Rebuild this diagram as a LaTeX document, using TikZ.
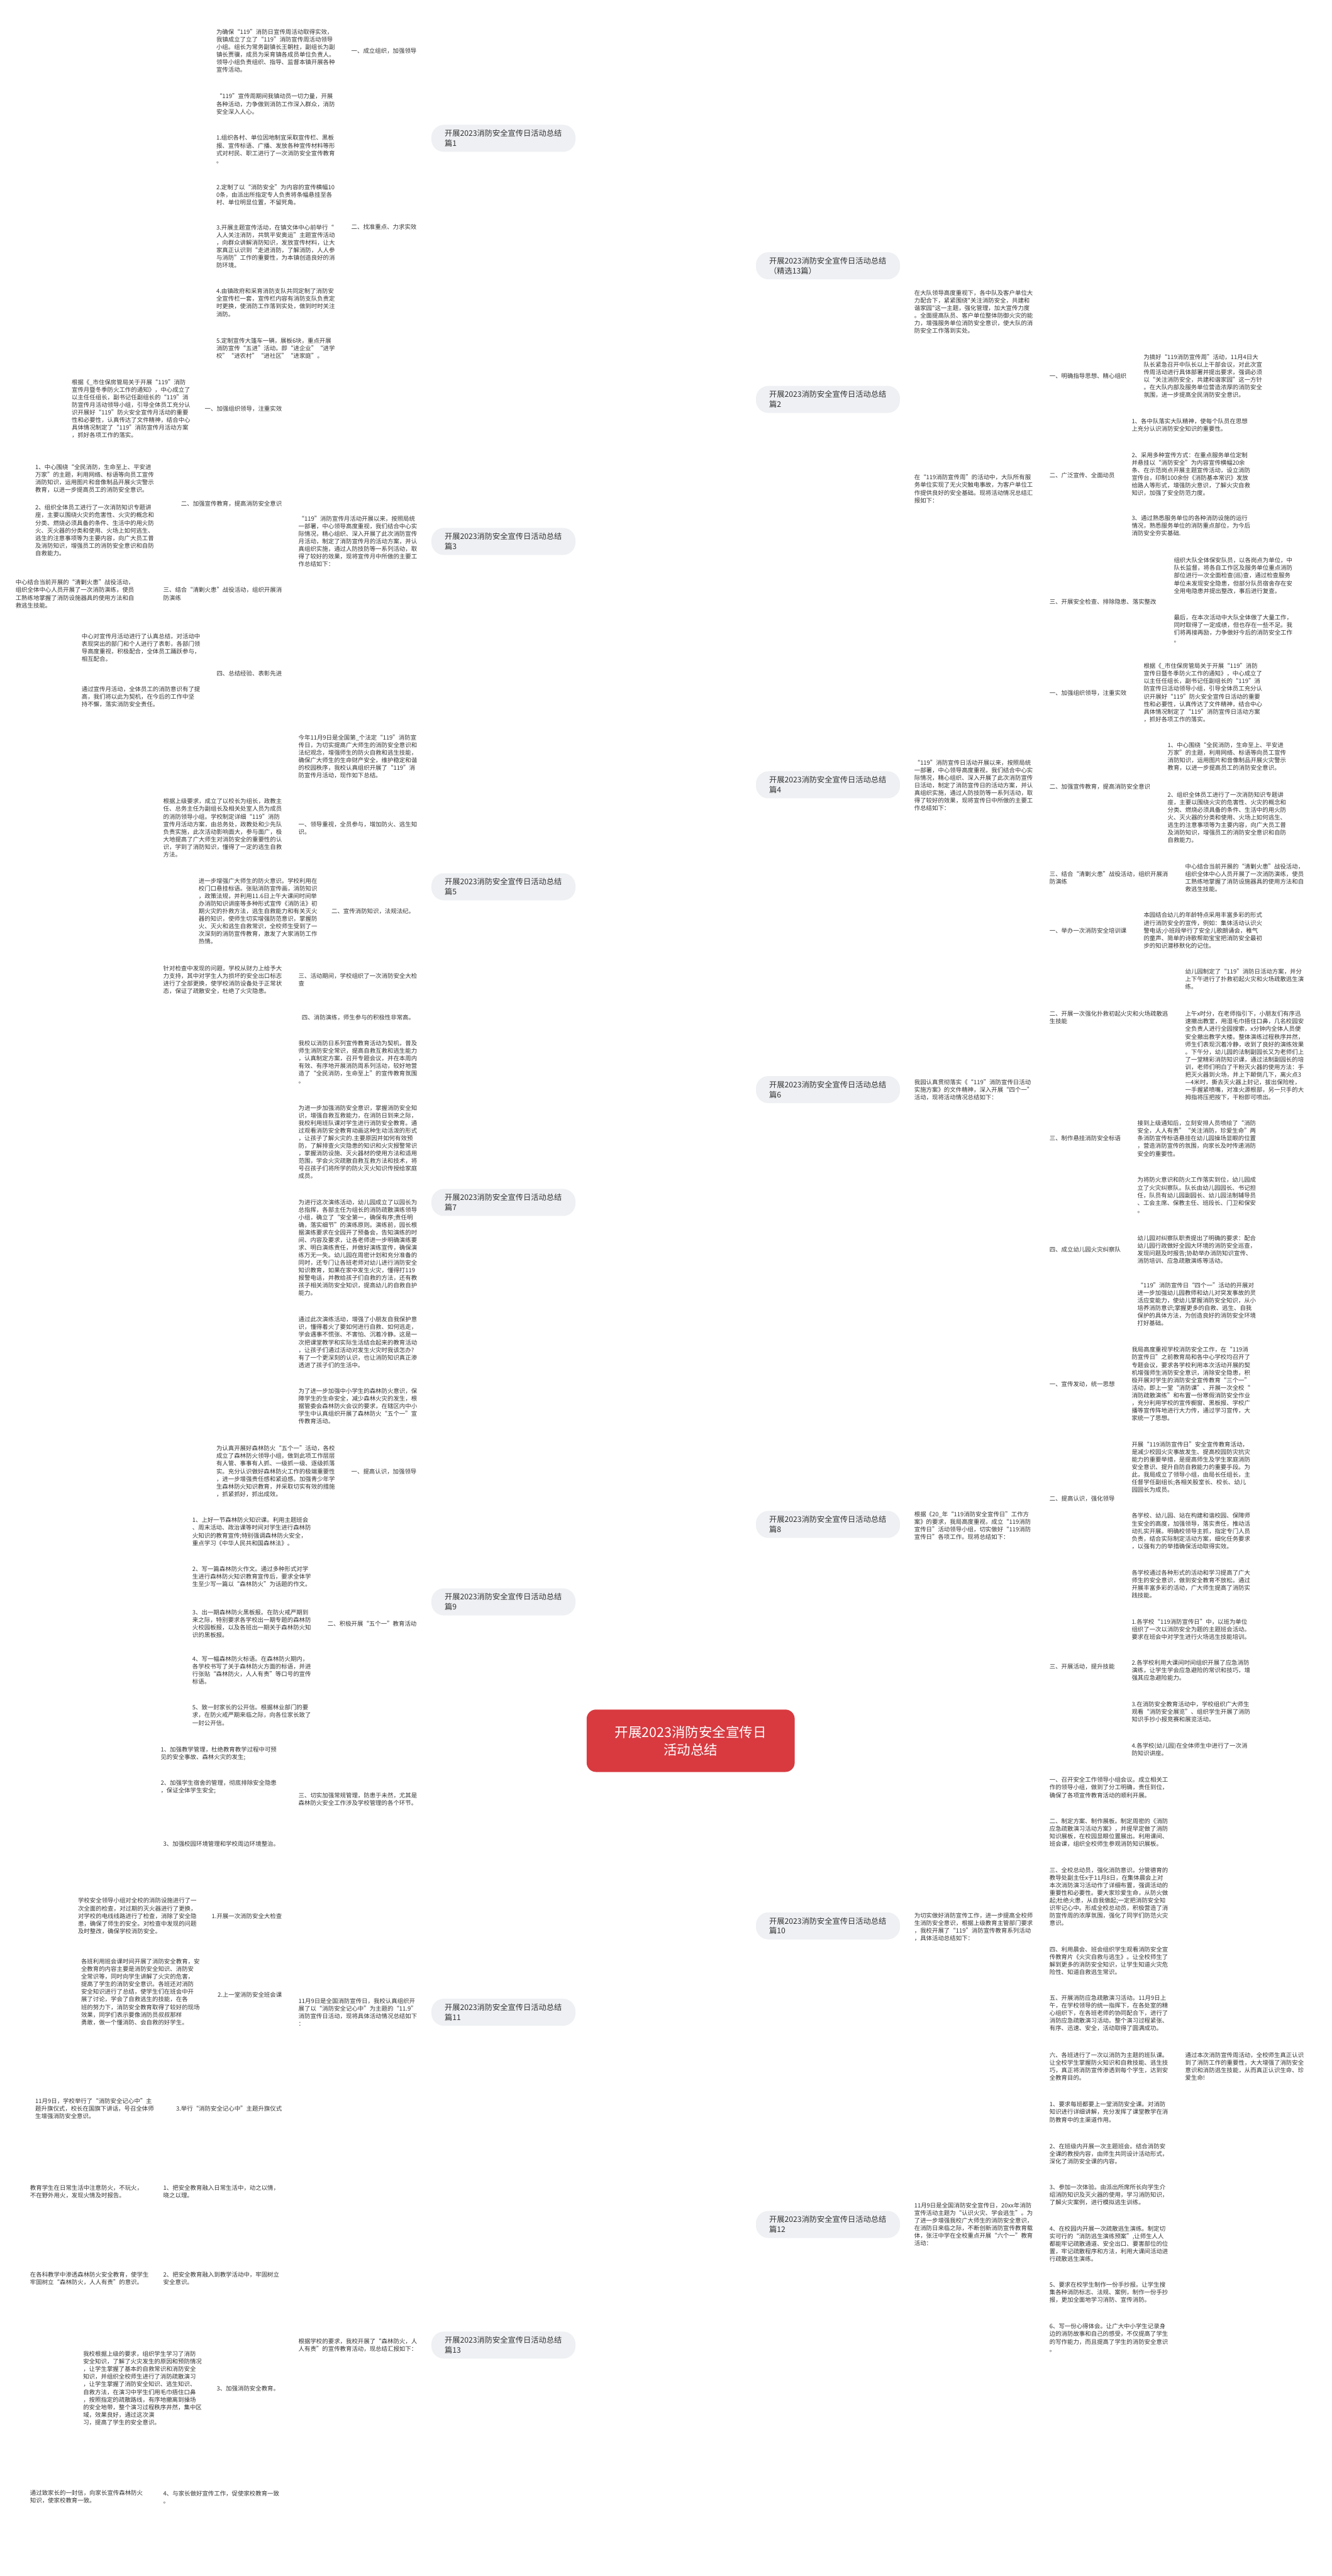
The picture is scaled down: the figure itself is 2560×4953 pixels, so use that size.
\documentclass[tikz,border=0pt]{standalone}
\usepackage{fontspec}
\newfontfamily\cjkf{Noto Sans CJK SC}
\usetikzlibrary{calc}
\definecolor{lc}{HTML}{B0232F}
\definecolor{tc}{HTML}{333333}
\definecolor{brf}{HTML}{EEF0F3}
\definecolor{ctf}{HTML}{D83A40}
\pgfdeclarelayer{bg}
\pgfsetlayers{bg,main}
\begin{document}
\begin{tikzpicture}[x=0.5pt,y=-0.5pt,
 txt/.style={font=\cjkf\fontsize{5.7pt}{7.3pt}\selectfont,text=tc,inner sep=0pt,outer sep=2pt},
 par/.style={txt,text width=114pt,align=left},
 lab/.style={txt,align=left},
 br/.style={font=\cjkf\fontsize{7.4pt}{9.5pt}\selectfont,text=tc,fill=brf,rounded corners=12pt,text width=113pt,align=left,inner xsep=12.75pt,inner ysep=0pt,minimum height=26pt,outer sep=0pt},
 ct/.style={font=\cjkf\fontsize{13pt}{17pt}\selectfont,text=white,fill=ctf,rounded corners=9pt,align=center,minimum width=200pt,minimum height=60pt,outer sep=0pt},
 lk/.style={draw=lc,line width=0.8pt,rounded corners=4pt},
 mk/.style={draw=lc,line width=1.2pt}
]
\useasboundingbox (0,0) rectangle (2560,4953);
\fill[white] (0,0) rectangle (2560,4953);

% ---------------- centre ----------------
\node[ct] (C) at (1328,3347) {开展2023消防安全宣传日\\活动总结};

% ---------------- left branch nodes ----------------
\node[br] (L1) at (968,266) {开展2023消防安全宣传日活动总结\\篇1};
\node[br] (L3) at (968,1041) {开展2023消防安全宣传日活动总结\\篇3};
\node[br] (L5) at (968,1705) {开展2023消防安全宣传日活动总结\\篇5};
\node[br] (L7) at (968,2312) {开展2023消防安全宣传日活动总结\\篇7};
\node[br] (L9) at (968,3080) {开展2023消防安全宣传日活动总结\\篇9};
\node[br] (L11) at (968,3869) {开展2023消防安全宣传日活动总结\\篇11};
\node[br] (L13) at (968,4509) {开展2023消防安全宣传日活动总结\\篇13};

% ---------------- right branch nodes ----------------
\node[br] (R0) at (1592,511) {开展2023消防安全宣传日活动总结\\（精选13篇）};
\node[br] (R2) at (1592,768) {开展2023消防安全宣传日活动总结\\篇2};
\node[br] (R4) at (1592,1509) {开展2023消防安全宣传日活动总结\\篇4};
\node[br] (R6) at (1592,2095) {开展2023消防安全宣传日活动总结\\篇6};
\node[br] (R8) at (1592,2931) {开展2023消防安全宣传日活动总结\\篇8};
\node[br] (R10) at (1592,3703) {开展2023消防安全宣传日活动总结\\篇10};
\node[br] (R12) at (1592,4277) {开展2023消防安全宣传日活动总结\\篇12};

% ================= 篇1 =================
\node[lab,anchor=east] (L1a) at (805,98) {一、成立组织，加强领导};
\node[par,anchor=east] (A1) at (648,98) {为确保“119”消防日宣传周活动取得实效，\\我镇成立了立了“119”消防宣传周活动领导\\小组。组长为常务副镇长王朝柱，副组长为副\\镇长贾骥，成员为采育镇各成员单位负责人。\\领导小组负责组织、指导、监督本镇开展各种\\宣传活动。};
\node[lab,anchor=east] (L1b) at (805,436) {二、找准重点、力求实效};
\node[par,anchor=east] (B1) at (648,200) {“119”宣传周期间我镇动员一切力量，开展\\各种活动，力争做到消防工作深入群众，消防\\安全深入人心。};
\node[par,anchor=east] (B2) at (648,287) {1.组织各村、单位因地制宜采取宣传栏、黑板\\报、宣传标语、广播、发放各种宣传材料等形\\式对村民、职工进行了一次消防安全宣传教育\\。};
\node[par,anchor=east] (B3) at (648,375) {2.定制了以“消防安全”为内容的宣传横幅10\\0条，由派出所指定专人负责将条幅悬挂至各\\村、单位明显位置，不留死角。};
\node[par,anchor=east] (B4) at (648,474) {3.开展主题宣传活动，在镇文体中心前举行“\\人人关注消防，共筑平安奥运”主题宣传活动\\，向群众讲解消防知识，发放宣传材料，让大\\家真正认识到“走进消防，了解消防，人人参\\与消防”工作的重要性，为本镇创造良好的消\\防环境。};
\node[par,anchor=east] (B5) at (648,582) {4.由镇政府和采育消防支队共同定制了消防安\\全宣传栏一套，宣传栏内容有消防支队负责定\\时更换，使消防工作落到实处，做到时时关注\\消防。};
\node[par,anchor=east] (B6) at (648,670) {5.定制宣传大篷车一辆，展板6块，重点开展\\消防宣传“五进”活动。即“进企业”“进学\\校”“进农村”“进社区”“进家庭”。};

% ================= 篇3 =================
\node[par,anchor=east] (I3) at (806,1041) {“119”消防宣传月活动开展以来，按照局统\\一部署，中心领导高度重视，我们结合中心实\\际情况，精心组织、深入开展了此次消防宣传\\月活动，制定了消防宣传月的活动方案，并认\\真组织实施，通过人防技防等一系列活动，取\\得了较好的效果，现将宣传月中所做的主要工\\作总结如下：};
\node[lab,anchor=east] (L3a) at (546,786) {一、加强组织领导，注重实效};
\node[lab,anchor=east] (L3b) at (546,969) {二、加强宣传教育，提高消防安全意识};
\node[lab,anchor=east] (L3c) at (546,1142) {三、结合“清剿火患”战役活动，组织开展消\\防演练};
\node[lab,anchor=east] (L3d) at (546,1295) {四、总结经验、表彰先进};
\node[par,anchor=east] (L3a1) at (370,786) {根据《\_市住保房管局关于开展“119”消防\\宣传月暨冬季防火工作的通知》，中心成立了\\以主任任组长，副书记任副组长的“119”消\\防宣传月活动领导小组，引导全体员工充分认\\识开展好“119”防火安全宣传月活动的重要\\性和必要性，认真传达了文件精神，结合中心\\具体情况制定了“119”消防宣传月活动方案\\，抓好各项工作的落实。};
\node[par,anchor=east] (L3b1) at (300,920) {1、中心围绕“全民消防，生命至上、平安进\\万家”的主题，利用网络、标语等向员工宣传\\消防知识，运用图片和音像制品开展火灾警示\\教育，以进一步提高员工的消防安全意识。};
\node[par,anchor=east] (L3b2) at (300,1020) {2、组织全体员工进行了一次消防知识专题讲\\座，主要以围绕火灾的危害性、火灾的概念和\\分类、燃烧必须具备的条件、生活中的用火防\\火、灭火器的分类和使用、火场上如何逃生、\\逃生的注意事项等为主要内容，向广大员工普\\及消防知识，增强员工的消防安全意识和自防\\自救能力。};
\node[par,anchor=east] (L3c1) at (262,1142) {中心结合当前开展的“清剿火患”战役活动，\\组织全体中心人员开展了一次消防演练，使员\\工熟练地掌握了消防设施器具的使用方法和自\\救逃生技能。};
\node[par,anchor=east] (L3d1) at (389,1245) {中心对宣传月活动进行了认真总结，对活动中\\表现突出的部门和个人进行了表彰，各部门领\\导高度重视，积极配合，全体员工踊跃参与，\\相互配合。};
\node[par,anchor=east] (L3d2) at (389,1340) {通过宣传月活动，全体员工的消防意识有了提\\高，我们将以此为契机，在今后的工作中坚\\持不懈，落实消防安全责任。};

% ================= 篇5 =================
\node[par,anchor=east] (I5) at (806,1455) {今年11月9日是全国第\_个法定“119”消防宣\\传日，为切实提高广大师生的消防安全意识和\\法纪观念，增强师生的防火自救和逃生技能，\\确保广大师生的生命财产安全，维护稳定和谐\\的校园秩序，我校认真组织开展了“119”消\\防宣传月活动，现作如下总结。};
\node[lab,anchor=east] (L5a) at (806,1592) {一、领导重视，全员参与，增加防火、逃生知\\识。};
\node[par,anchor=east] (L5a1) at (546,1592) {根据上级要求，成立了以校长为组长，政教主\\任、总务主任为副组长及相关处室人员为成员\\的消防领导小组。学校制定详细“119”消防\\宣传月活动方案，由总务处，政教处和少先队\\负责实施，此次活动影响面大，参与面广，极\\大地提高了广大师生对消防安全的重要性的认\\识，学到了消防知识，懂得了一定的逃生自救\\方法。};
\node[lab,anchor=east] (L5b) at (801,1752) {二、宣传消防知识，法规法纪。};
\node[par,anchor=east] (L5b1) at (614,1752) {进一步增强广大师生的防火意识。学校利用在\\校门口悬挂标语。张贴消防宣传画，消防知识\\，政策法规，并利用11.6日上午大课间时间举\\办消防知识讲座等多种形式宣传《消防法》初\\期火灾的扑救方法，逃生自救能力和有关灭火\\器的知识，使师生切实增强防范意识，掌握防\\火、灭火和逃生自救常识，全校师生受到了一\\次深刻的消防宣传教育，激发了大家消防工作\\热情。};
\node[lab,anchor=east] (L5c) at (806,1884) {三、活动期间，学校组织了一次消防安全大检\\查};
\node[par,anchor=east] (L5c1) at (546,1884) {针对检查中发现的问题，学校从财力上给予大\\力支持，其中对学生人为损坏的安全出口标志\\进行了全部更换，使学校消防设备处于正常状\\态，保证了疏散安全，杜绝了火灾隐患。};
\node[lab,anchor=east] (L5d) at (801,1956) {四、消防演练，师生参与的积极性非常高。};

% ================= 篇7 =================
\node[par,anchor=east] (C1) at (806,2042) {我校以消防日系列宣传教育活动为契机，普及\\师生消防安全常识，提高自救互救和逃生能力\\，认真制定方案，召开专题会议，并在本周内\\有效、有序地开展消防周系列活动，较好地营\\造了“全民消防，生命至上”的宣传教育氛围\\。};
\node[par,anchor=east] (C2) at (806,2196) {为进一步加强消防安全意识，掌握消防安全知\\识，增强自救互救能力，在消防日到来之际，\\我校利用班队课对学生进行消防安全教育。通\\过观看消防安全教育动画这种生动活泼的形式\\，让孩子了解火灾的.主要原因并如何有效预\\防，了解排查火灾隐患的知识和火灾报警常识\\，掌握消防设施、灭火器材的使用方法和适用\\范围，学会火灾疏散自救互救方法和技术，将\\号召孩子们将所学的防火灭火知识传授给家庭\\成员。};
\node[par,anchor=east] (C3) at (806,2399) {为进行这次演练活动，幼儿园成立了以园长为\\总指挥，各部主任为组长的消防疏散演练领导\\小组，确立了“安全第一，确保有序;责任明\\确，落实细节”的演练原则。演练前，园长根\\据演练要求在全园开了预备会，告知演练的时\\间、内容及要求，让各老师进一步明确演练要\\求、明白演练责任，并做好演练宣传，确保演\\练万无一失。幼儿园在周密计划和充分准备的\\同时，还专门让各班老师对幼儿进行消防安全\\知识教育，如果在家中发生火灾，懂得打119\\报警电话，并教给孩子们自救的方法，还有教\\孩子相关消防安全知识，提高幼儿的自救自护\\能力。};
\node[par,anchor=east] (C4) at (806,2581) {通过此次演练活动，增强了小朋友自我保护意\\识，懂得着火了要如何进行自救、如何逃走，\\学会遇事不慌张、不害怕、沉着冷静。这是一\\次把课堂教学和实际生活结合起来的教育活动\\，让孩子们通过活动对发生火灾时我该怎办?\\有了一个更深刻的认识，也让消防知识真正渗\\透进了孩子们的生活中。};

% ================= 篇9 =================
\node[par,anchor=east] (D0) at (806,2704) {为了进一步加强中小学生的森林防火意识，保\\障学生的生命安全，减少森林火灾的发生，根\\据管委会森林防火会议的要求，在辖区内中小\\学生中认真组织开展了森林防火“五个一”宣\\传教育活动。};
\node[lab,anchor=east] (L9a) at (805,2829) {一、提高认识，加强领导};
\node[par,anchor=east] (L9a1) at (648,2829) {为认真开展好森林防火“五个一”活动，各校\\成立了森林防火领导小组，做到此项工作层层\\有人管、事事有人抓、一级抓一级、逐级抓落\\实。充分认识做好森林防火工作的极端重要性\\，进一步增强责任感和紧迫感。加强青少年学\\生森林防火知识教育，并采取切实有效的措施\\，抓紧抓好，抓出成效。};
\node[lab,anchor=east] (L9b) at (805,3122) {二、积极开展“五个一”教育活动};
\node[par,anchor=east] (E1) at (602,2945) {1、上好一节森林防火知识课。利用主题班会\\、周末活动、政治课等时间对学生进行森林防\\火知识的教育宣传;特别强调森林防火安全，\\重点学习《中华人民共和国森林法》。};
\node[par,anchor=east] (E2) at (602,3031) {2、写一篇森林防火作文。通过多种形式对学\\生进行森林防火知识教育宣传后，要求全体学\\生至少写一篇以“森林防火”为话题的作文。};
\node[par,anchor=east] (E3) at (602,3122) {3、出一期森林防火黑板报。在防火戒严期到\\来之际，特别要求各学校出一期专题的森林防\\火校园板报，以及各班出一期关于森林防火知\\识的黑板报。};
\node[par,anchor=east] (E4) at (602,3212) {4、写一幅森林防火标语。在森林防火期内，\\各学校书写了关于森林防火方面的标语，并进\\行张贴“森林防火，人人有责”等口号的宣传\\标语。};
\node[par,anchor=east] (E5) at (602,3298) {5、致一封家长的公开信。根据林业部门的要\\求，在防火戒严期来临之际，向各位家长致了\\一封公开信。};
\node[lab,anchor=east] (L9c) at (806,3459) {三、切实加强常规管理，防患于未然，尤其是\\森林防火安全工作涉及学校管理的各个环节。};
\node[par,anchor=east] (F1) at (541,3372) {1、加强教学管理，杜绝教育教学过程中可预\\见的安全事故、森林火灾的发生;};
\node[par,anchor=east] (F2) at (541,3436) {2、加强学生宿舍的管理，彻底排除安全隐患\\，保证全体学生安全;};
\node[lab,anchor=east] (F3) at (541,3545) {3、加强校园环境管理和学校周边环境整治。};

% ================= 篇11 =================
\node[par,anchor=east] (I11) at (806,3869) {11月9日是全国消防宣传日，我校认真组织开\\展了以“消防安全记心中”为主题的“11.9”\\消防宣传日活动，现将具体活动情况总结如下\\：};
\node[lab,anchor=east] (L11a) at (546,3684) {1.开展一次消防安全大检查};
\node[lab,anchor=east] (L11b) at (546,3836) {2.上一堂消防安全班会课};
\node[lab,anchor=east] (L11c) at (546,4054) {3.举行“消防安全记心中”主题升旗仪式};
\node[par,anchor=east] (L11a1) at (382,3684) {学校安全领导小组对全校的消防设施进行了一\\次全面的检查，对过期的灭火器进行了更换，\\对学校的电线线路进行了检查，消除了安全隐\\患，确保了师生的安全。对检查中发现的问题\\及时整改，确保学校消防安全。};
\node[par,anchor=east] (L11b1) at (388,3830) {各班利用班会课时间开展了消防安全教育，安\\全教育的内容主要是消防安全知识、消防安\\全常识等，同时向学生讲解了火灾的危害，\\提高了学生的消防安全意识。各班还对消防\\安全知识进行了总结，使学生们在班会中开\\展了讨论，学会了自救逃生的技能，在各\\班的努力下，消防安全教育取得了较好的现场\\效果，同学们表示要像消防员叔叔那样\\勇敢，做一个懂消防、会自救的好学生。};
\node[par,anchor=east] (L11c1) at (300,4054) {11月9日，学校举行了“消防安全记心中”主\\题升旗仪式，校长在国旗下讲话，号召全体师\\生增强消防安全意识。};

% ================= 篇13 =================
\node[par,anchor=east] (I13) at (806,4509) {根据学校的要求，我校开展了“森林防火，人\\人有责”的宣传教育活动，现总结汇报如下：};
\node[lab,anchor=east] (L13a) at (541,4214) {1、把安全教育融入日常生活中，动之以情，\\晓之以理。};
\node[lab,anchor=east] (L13b) at (541,4381) {2、把安全教育融入到教学活动中，牢固树立\\安全意识。};
\node[lab,anchor=east] (L13c) at (541,4592) {3、加强消防安全教育。};
\node[lab,anchor=east] (L13d) at (541,4801) {4、与家长做好宣传工作，促使家校教育一致\\。};
\node[par,anchor=east] (L13a1) at (290,4214) {教育学生在日常生活中注意防火，不玩火，\\不在野外用火，发现火情及时报告。};
\node[par,anchor=east] (L13b1) at (290,4381) {在各科教学中渗透森林防火安全教育，使学生\\牢固树立“森林防火，人人有责”的意识。};
\node[par,anchor=east] (L13c1) at (392,4592) {我校根据上级的要求，组织学生学习了消防\\安全知识，了解了火灾发生的原因和预防情况\\，让学生掌握了基本的自救常识和消防安全\\知识，并组织全校师生进行了消防疏散演习\\，让学生掌握了消防安全知识、逃生知识、\\自救方法，在演习中学生们用毛巾捂住口鼻\\，按照指定的疏散路线，有序地撤离到操场\\的安全地带，整个演习过程秩序井然，集中区\\域，效果良好，通过这次演\\习，提高了学生的安全意识。};
\node[par,anchor=east] (L13d1) at (290,4801) {通过致家长的一封信，向家长宣传森林防火\\知识，使家校教育一致。};

% ================= 篇2 =================
\node[par,anchor=west] (G1) at (1754,600) {在大队领导高度重视下，各中队及客户单位大\\力配合下，紧紧围绕"关注消防安全，共建和\\谐家园"这一主题，强化管理，加大宣传力度\\。全面提高队员、客户单位整体防御火灾的能\\力，增强服务单位消防安全意识，使大队的消\\防安全工作落到实处。};
\node[par,anchor=west] (G2) at (1754,940) {在“119消防宣传周”的活动中，大队所有服\\务单位实现了无火灾触电事故，为客户单位工\\作提供良好的安全基础。现将活动情况总结汇\\报如下：};
\node[lab,anchor=west] (H1) at (2014,723) {一、明确指导思想、精心组织};
\node[par,anchor=west] (H1a) at (2195,723) {为搞好“119消防宣传周”活动，11月4日大\\队长紧急召开中队长以上干部会议，对此次宣\\传周活动进行具体部署并提出要求，强调必须\\以“关注消防安全，共建和谐家园”这一方针\\。在大队内部及服务单位营造浓厚的消防安全\\氛围，进一步提高全民消防安全意识。};
\node[lab,anchor=west] (H2) at (2014,914) {二、广泛宣传、全面动员};
\node[par,anchor=west] (H2a) at (2172,817) {1、各中队落实大队精神，使每个队员在思想\\上充分认识消防安全知识的重要性。};
\node[par,anchor=west] (H2b) at (2172,912) {2、采用多种宣传方式：在重点服务单位定制\\并悬挂以“消防安全”为内容宣传横幅20余\\条、在示范岗点开展主题宣传活动，设立消防\\宣传台，印制100余份《消防基本常识》发放\\给路人等形式，增强防火意识，了解火灾自救\\知识，加强了安全防范力度。};
\node[par,anchor=west] (H2c) at (2172,1011) {3、通过熟悉服务单位的各种消防设施的运行\\情况，熟悉服务单位的消防重点部位，为今后\\消防安全夯实基础.};
\node[lab,anchor=west] (H3) at (2014,1157) {三、开展安全检查、排除隐患、落实整改};
\node[par,anchor=west] (H3a) at (2253,1107) {组织大队全体保安队员，以各岗点为单位，中\\队长监督，将各自工作区及服务单位重点消防\\部位进行一次全面检查(巡)查，通过检查服务\\单位未发现安全隐患，但部分队员宿舍存在安\\全用电隐患并提出整改，事后进行复查。};
\node[par,anchor=west] (H3b) at (2253,1209) {最后，在本次活动中大队全体做了大量工作，\\同时取得了一定成绩，但也存在一些不足。我\\们将再接再励，力争做好今后的消防安全工作\\。};

% ================= 篇4 =================
\node[par,anchor=west] (I4) at (1754,1510) {“119”消防宣传日活动开展以来，按照局统\\一部署，中心领导高度重视，我们结合中心实\\际情况，精心组织、深入开展了此次消防宣传\\日活动，制定了消防宣传日的活动方案，并认\\真组织实施，通过人防技防等一系列活动，取\\得了较好的效果，现将宣传日中所做的主要工\\作总结如下：};
\node[lab,anchor=west] (J1) at (2014,1332) {一、加强组织领导，注重实效};
\node[par,anchor=west] (J1a) at (2195,1332) {根据《\_市住保房管局关于开展“119”消防\\宣传日暨冬季防火工作的通知》，中心成立了\\以主任任组长，副书记任副组长的“119”消\\防宣传日活动领导小组，引导全体员工充分认\\识开展好“119”防火安全宣传日活动的重要\\性和必要性，认真传达了文件精神，结合中心\\具体情况制定了“119”消防宣传日活动方案\\，抓好各项工作的落实。};
\node[lab,anchor=west] (J2) at (2014,1513) {二、加强宣传教育，提高消防安全意识};
\node[par,anchor=west] (J2a) at (2241,1455) {1、中心围绕“全民消防，生命至上、平安进\\万家”的主题，利用网络、标语等向员工宣传\\消防知识，运用图片和音像制品开展火灾警示\\教育，以进一步提高员工的消防安全意识。};
\node[par,anchor=west] (J2b) at (2241,1572) {2、组织全体员工进行了一次消防知识专题讲\\座，主要以围绕火灾的危害性、火灾的概念和\\分类、燃烧必须具备的条件、生活中的用火防\\火、灭火器的分类和使用、火场上如何逃生、\\逃生的注意事项等为主要内容，向广大员工普\\及消防知识，增强员工的消防安全意识和自防\\自救能力。};
\node[lab,anchor=west] (J3) at (2014,1688) {三、结合“清剿火患”战役活动，组织开展消\\防演练};
\node[par,anchor=west] (J3a) at (2275,1688) {中心结合当前开展的“清剿火患”战役活动，\\组织全体中心人员开展了一次消防演练，使员\\工熟练地掌握了消防设施器具的使用方法和自\\救逃生技能。};

% ================= 篇6 =================
\node[par,anchor=west] (I6) at (1754,2096) {我园认真贯彻落实《“119”消防宣传日活动\\实施方案》的文件精神，深入开展“四个一”\\活动，现将活动情况总结如下：};
\node[lab,anchor=west] (K1) at (2014,1789) {一、举办一次消防安全培训课};
\node[par,anchor=west] (K1a) at (2195,1789) {本园结合幼儿的年龄特点采用丰富多彩的形式\\进行消防安全的宣传，例如：集体活动认识火\\警电话;小班段举行了安全儿歌朗诵会，稚气\\的童声、简单的诗歌帮助宝宝把消防安全最初\\步的知识潜移默化的记住。};
\node[lab,anchor=west] (K2) at (2014,1956) {二、开展一次强化扑救初起火灾和火场疏散逃\\生技能};
\node[par,anchor=west] (K2a) at (2275,1883) {幼儿园制定了“119”消防日活动方案，并分\\上下午进行了扑救初起火灾和火场疏散逃生演\\练。};
\node[par,anchor=west] (K2b) at (2275,2030) {上午x时分，在老师指引下，小朋友们有序迅\\速撤出教室，用湿毛巾捂住口鼻，几名校园安\\全负责人进行全园搜索，x分钟内全体人员便\\安全撤出教学大楼。整体演练过程秩序井然，\\师生们表现沉着冷静，收到了良好的演练效果\\。下午分，幼儿园的法制副园长又为老师们上\\了一堂精彩消防知识课，通过法制副园长的培\\训，老师们明白了干粉灭火器的使用方法：手\\把灭火器到火场，并上下颠倒几下，离火点3\\—4米时，撕去灭火器上封记，拔出保险栓，\\一手握紧喷嘴，对准火源根部，另一只手的大\\拇指将压把按下，干粉即可喷出。};
\node[lab,anchor=west] (K3) at (2014,2189) {三、制作悬挂消防安全标语};
\node[par,anchor=west] (K3a) at (2183,2189) {接到上级通知后，立刻安排人员喷绘了“消防\\安全，人人有责”“关注消防，珍爱生命”两\\条消防宣传标语悬挂在幼儿园操场显眼的位置\\，营造消防宣传的氛围，向家长及时传递消防\\安全的重要性。};
\node[lab,anchor=west] (K4) at (2014,2403) {四、成立幼儿园火灾纠察队};
\node[par,anchor=west] (K4a) at (2183,2298) {为将防火意识和防火工作落实到位，幼儿园成\\立了火灾纠察队。队长由幼儿园园长、书记担\\任，队员有幼儿园副园长、幼儿园法制辅导员\\、工会主席、保教主任、班段长、门卫和保安\\。};
\node[par,anchor=west] (K4b) at (2183,2403) {幼儿园对纠察队职责提出了明确的要求：配合\\幼儿园行政做好全园大环境的消防安全巡查，\\发现问题及时报告;协助举办消防知识宣传、\\消防培训、应急疏散演练等活动。};
\node[par,anchor=west] (K4c) at (2183,2508) {“119”消防宣传日“四个一”活动的开展对\\进一步加强幼儿园教师和幼儿对突发事故的灵\\活应变能力，使幼儿掌握消防安全知识，从小\\培养消防意识;掌握更多的自救、逃生、自我\\保护的具体方法，为创造良好的消防安全环境\\打好基础。};

% ================= 篇8 =================
\node[par,anchor=west] (I8) at (1754,2933) {根据《20\_年“119消防安全宣传日”工作方\\案》的要求，我局高度重视，成立“119消防\\宣传日”活动领导小组，切实做好“119消防\\宣传日”各项工作。现将总结如下：};
\node[lab,anchor=west] (M1) at (2014,2661) {一、宣传发动，统一思想};
\node[par,anchor=west] (M1a) at (2172,2661) {我局高度重视学校消防安全工作，在“119消\\防宣传日”之前教育局和各中心学校均召开了\\专题会议，要求各学校利用本次活动开展的契\\机增强师生消防安全意识，消除安全隐患，积\\极开展对学生的消防安全宣传教育“三个一”\\活动，即上一堂“消防课”、开展一次全校“\\消防疏散演练”和布置一份寒假消防安全作业\\，充分利用学校的宣传橱窗、黑板报、学校广\\播等宣传阵地进行大力传，通过学习宣传，大\\家统一了思想。};
\node[lab,anchor=west] (M2) at (2014,2882) {二、提高认识，强化领导};
\node[par,anchor=west] (M2a) at (2172,2821) {开展“119消防宣传日”安全宣传教育活动，\\是减少校园火灾事故发生、提高校园防灾抗灾\\能力的重要举措，是提高师生及学生家庭消防\\安全意识、提升自防自救能力的重要手段。为\\此，我局成立了领导小组，由局长任组长，主\\任督学任副组长;各相关股室长、校长、幼儿\\园园长为成员。};
\node[par,anchor=west] (M2b) at (2172,2944) {各学校、幼儿园、站在构建和谐校园、保障师\\生安全的高度，加强领导，落实责任，推动活\\动扎实开展。明确校领导主抓，指定专门人员\\负责，结合实际制定活动方案，细化任务要求\\，以强有力的举措确保活动取得实效。};
\node[lab,anchor=west] (M3) at (2014,3205) {三、开展活动，提升技能};
\node[par,anchor=west] (M3a) at (2172,3046) {各学校通过各种形式的活动和学习提高了广大\\师生的安全意识，做到安全教育不放松。通过\\开展丰富多彩的活动，广大师生提高了消防实\\践技能。};
\node[par,anchor=west] (M3b) at (2172,3133) {1.各学校“119消防宣传日”中，以班为单位\\组织了一次以消防安全为题的主题班会活动。\\要求在班会中对学生进行火场逃生技能培训。};
\node[par,anchor=west] (M3c) at (2172,3212) {2.各学校利用大课间时间组织开展了应急消防\\演练，让学生学会应急避险的常识和技巧，增\\强其应急避险能力。};
\node[par,anchor=west] (M3d) at (2172,3291) {3.在消防安全教育活动中，学校组织广大师生\\观看“消防安全展览”、组织学生开展了消防\\知识手抄小报竞赛和展览活动。};
\node[par,anchor=west] (M3e) at (2172,3364) {4.各学校(幼儿园)在全体师生中进行了一次消\\防知识讲座。};

% ================= 篇10 =================
\node[par,anchor=west] (I10) at (1754,3705) {为切实做好消防宣传工作，进一步提高全校师\\生消防安全意识，根据上级教育主管部门要求\\，我校开展了“119”消防宣传教育系列活动\\，具体活动总结如下：};
\node[par,anchor=west] (N1) at (2014,3437) {一、召开安全工作领导小组会议。成立相关工\\作的领导小组，做到了分工明确，责任到位，\\确保了各项宣传教育活动的顺利开展。};
\node[par,anchor=west] (N2) at (2014,3524) {二、制定方案、制作展板。制定周密的《消防\\应急疏散演习活动方案》，并提早定做了消防\\知识展板，在校园显眼位置展出。利用课间、\\班会课，组织全校师生参观消防知识展板。};
\node[par,anchor=west] (N3) at (2014,3647) {三、全校总动员，强化消防意识。分管德育的\\教导处副主任x于11月8日，在集体晨会上对\\本次消防演习活动作了详细布置，强调活动的\\重要性和必要性。要大家珍爱生命，从防火做\\起;杜绝火患，从自我做起;一定把消防安全知\\识牢记心中。形成全校总动员，积极营造了消\\防宣传周的浓厚氛围，强化了同学们防范火灾\\意识。};
\node[par,anchor=west] (N4) at (2014,3770) {四、利用晨会、班会组织学生观看消防安全宣\\传教育片《火灾自救与逃生》。让全校师生了\\解到更多的消防安全知识，让学生知道火灾危\\险性、知道自救逃生常识。};
\node[par,anchor=west] (N5) at (2014,3871) {五、开展消防应急疏散演习活动。11月9日上\\午，在学校领导的统一指挥下，在各处室的精\\心组织下，在各班老师的协同配合下，进行了\\消防应急疏散演习活动。整个演习过程紧张、\\有序、迅速、安全，活动取得了圆满成功。};
\node[par,anchor=west] (N6) at (2014,3973) {六、各班进行了一次以消防为主题的班队课。\\让全校学生掌握防火知识和自救技能、逃生技\\巧，真正将消防宣传渗透到每个学生，达到安\\全教育目的。};
\node[par,anchor=west] (N6a) at (2275,3973) {通过本次消防宣传周活动，全校师生真正认识\\到了消防工作的重要性，大大增强了消防安全\\意识和消防逃生技能，从而真正认识生命、珍\\爱生命!};

% ================= 篇12 =================
\node[par,anchor=west] (I12) at (1754,4277) {11月9日是全国消防安全宣传日，20xx年消防\\宣传活动主题为“认识火灾、学会逃生”。为\\了进一步增强我校广大师生的消防安全意识，\\在消防日来临之际，不断创新消防宣传教育载\\体，张汪中学在全校重点开展“六个一”教育\\活动：};
\node[par,anchor=west] (P1) at (2014,4061) {1、要求每班都要上一堂消防安全课。对消防\\知识进行详细讲解，充分发挥了课堂教学在消\\防教育中的主渠道作用。};
\node[par,anchor=west] (P2) at (2014,4141) {2、在班级内开展一次主题班会。结合消防安\\全课的教授内容，由师生共同设计活动形式，\\深化了消防安全课的内容。};
\node[par,anchor=west] (P3) at (2014,4220) {3、参加一次体验。由派出所席所长向学生介\\绍消防知识及灭火器的使用，学习消防知识，\\了解火灾案例，进行模拟逃生训练。};
\node[par,anchor=west] (P4) at (2014,4314) {4、在校园内开展一次疏散逃生演练。制定切\\实可行的“消防逃生演练预案”,让师生人人\\都能牢记疏散通道、安全出口、要害部位的位\\置，牢记疏散程序和方法，利用大课间活动进\\行疏散逃生演练。};
\node[par,anchor=west] (P5) at (2014,4408) {5、要求在校学生制作一份手抄报。让学生搜\\集各种消防标志、法规、案例，制作一份手抄\\报，更加全面地学习消防、宣传消防。};
\node[par,anchor=west] (P6) at (2014,4495) {6、写一份心得体会。让广大中小学生记录身\\边的消防故事和自己的感受，不仅提高了学生\\的写作能力，而且提高了学生的消防安全意识\\。};

% ================= connectors =================
\begin{pgfonlayer}{bg}
\foreach \n in {L1,L3,L5,L7,L9,L11,L13}
  \draw[mk] ($(C.west)+(30,0)$) .. controls ($(C.west)+(-8,0)$) and ($(\n.east)+(33,0)$) .. (\n.east);
\foreach \n in {R0,R2,R4,R6,R8,R10,R12}
  \draw[mk] ($(C.center)+(142,0)$) .. controls ($(C.center)+(102,0)$) and ($(\n.west)+(-35,0)$) .. (\n.west);
% 篇1
\foreach \c in {L1a,L1b} \draw[lk] (L1.west) -- ++(-15,0) |- (\c.east);
\draw[lk] (L1a.west) -- (A1.east);
\foreach \c in {B1,B2,B3,B4,B5,B6} \draw[lk] (L1b.west) -- ++(-11,0) |- (\c.east);
% 篇3
\draw[lk] (L3.west) -- (I3.east);
\foreach \c in {L3a,L3b,L3c,L3d} \draw[lk] (I3.west) -- ++(-13,0) |- (\c.east);
\draw[lk] (L3a.west) -- (L3a1.east);
\foreach \c in {L3b1,L3b2} \draw[lk] (L3b.west) -- ++(-10,0) |- (\c.east);
\draw[lk] (L3c.west) -- (L3c1.east);
\foreach \c in {L3d1,L3d2} \draw[lk] (L3d.west) -- ++(-13,0) |- (\c.east);
% 篇5
\foreach \c in {I5,L5a,L5b,L5c,L5d} \draw[lk] (L5.west) -- ++(-15,0) |- (\c.east);
\draw[lk] (L5a.west) -- (L5a1.east);
\draw[lk] (L5b.west) -- (L5b1.east);
\draw[lk] (L5c.west) -- (L5c1.east);
% 篇7
\foreach \c in {C1,C2,C3,C4} \draw[lk] (L7.west) -- ++(-15,0) |- (\c.east);
% 篇9
\foreach \c in {D0,L9a,L9b,L9c} \draw[lk] (L9.west) -- ++(-15,0) |- (\c.east);
\draw[lk] (L9a.west) -- (L9a1.east);
\foreach \c in {E1,E2,E3,E4,E5} \draw[lk] (L9b.west) -- ++(-16,0) |- (\c.east);
\foreach \c in {F1,F2,F3} \draw[lk] (L9c.west) -- ++(-13,0) |- (\c.east);
% 篇11
\draw[lk] (L11.west) -- (I11.east);
\foreach \c in {L11a,L11b,L11c} \draw[lk] (I11.west) -- ++(-13,0) |- (\c.east);
\draw[lk] (L11a.west) -- (L11a1.east);
\draw[lk] (L11b.west) -- (L11b1.east);
\draw[lk] (L11c.west) -- (L11c1.east);
% 篇13
\draw[lk] (L13.west) -- (I13.east);
\foreach \c in {L13a,L13b,L13c,L13d} \draw[lk] (I13.west) -- ++(-13,0) |- (\c.east);
\draw[lk] (L13a.west) -- (L13a1.east);
\draw[lk] (L13b.west) -- (L13b1.east);
\draw[lk] (L13c.west) -- (L13c1.east);
\draw[lk] (L13d.west) -- (L13d1.east);
% 篇2
\foreach \c in {G1,G2} \draw[lk] (R2.east) -- ++(11,0) |- (\c.west);
\foreach \c in {H1,H2,H3} \draw[lk] (G2.east) -- ++(13,0) |- (\c.west);
\draw[lk] (H1.east) -- (H1a.west);
\foreach \c in {H2a,H2b,H2c} \draw[lk] (H2.east) -- ++(12,0) |- (\c.west);
\foreach \c in {H3a,H3b} \draw[lk] (H3.east) -- ++(12,0) |- (\c.west);
% 篇4
\draw[lk] (R4.east) -- (I4.west);
\foreach \c in {J1,J2,J3} \draw[lk] (I4.east) -- ++(13,0) |- (\c.west);
\draw[lk] (J1.east) -- (J1a.west);
\foreach \c in {J2a,J2b} \draw[lk] (J2.east) -- ++(11,0) |- (\c.west);
\draw[lk] (J3.east) -- (J3a.west);
% 篇6
\draw[lk] (R6.east) -- (I6.west);
\foreach \c in {K1,K2,K3,K4} \draw[lk] (I6.east) -- ++(13,0) |- (\c.west);
\draw[lk] (K1.east) -- (K1a.west);
\foreach \c in {K2a,K2b} \draw[lk] (K2.east) -- ++(11,0) |- (\c.west);
\draw[lk] (K3.east) -- (K3a.west);
\foreach \c in {K4a,K4b,K4c} \draw[lk] (K4.east) -- ++(12,0) |- (\c.west);
% 篇8
\draw[lk] (R8.east) -- (I8.west);
\foreach \c in {M1,M2,M3} \draw[lk] (I8.east) -- ++(13,0) |- (\c.west);
\draw[lk] (M1.east) -- (M1a.west);
\foreach \c in {M2a,M2b} \draw[lk] (M2.east) -- ++(12,0) |- (\c.west);
\foreach \c in {M3a,M3b,M3c,M3d,M3e} \draw[lk] (M3.east) -- ++(12,0) |- (\c.west);
% 篇10
\draw[lk] (R10.east) -- (I10.west);
\foreach \c in {N1,N2,N3,N4,N5,N6} \draw[lk] (I10.east) -- ++(13,0) |- (\c.west);
\draw[lk] (N6.east) -- (N6a.west);
% 篇12
\draw[lk] (R12.east) -- (I12.west);
\foreach \c in {P1,P2,P3,P4,P5,P6} \draw[lk] (I12.east) -- ++(13,0) |- (\c.west);
\end{pgfonlayer}
\end{tikzpicture}
\end{document}
